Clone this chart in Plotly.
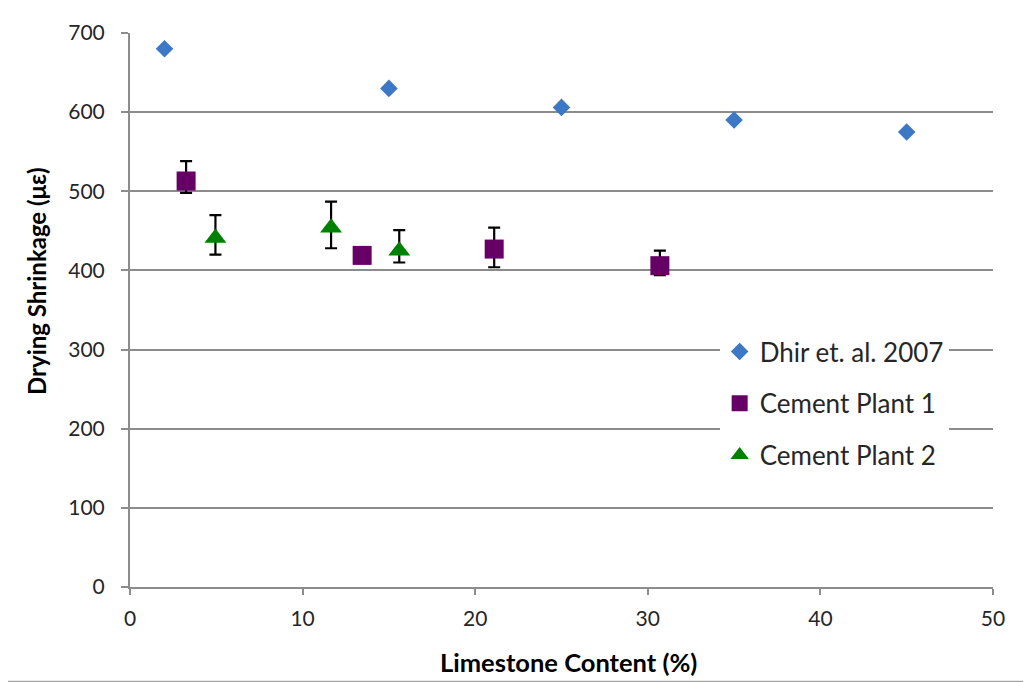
import plotly.graph_objects as go

# ---- data ----
dhir_x = [2, 15, 25, 35, 45]
dhir_y = [680, 630, 606, 590, 575]

cp1_x = [3.25, 13.45, 21.1, 30.7]
cp1_y = [513, 419, 427, 406]
cp1_err_plus = [25, 6, 27, 19]
cp1_err_minus = [15, 6, 23, 12]

cp2_x = [4.95, 11.65, 15.6]
cp2_y = [441, 454, 425]
cp2_err_plus = [29, 33, 26]
cp2_err_minus = [21, 26, 15]

x_ticks = [0, 10, 20, 30, 40, 50]
y_ticks = [0, 100, 200, 300, 400, 500, 600, 700]

x_title = "Limestone Content (%)"
y_title = "Drying Shrinkage (με)"

FONT = "Lato"
GRID = "#8c8c8c"

# reference-pixel helpers (plot area: x 130..993.5, y 586.7..33.3)
def px(x):
    return (x - 130) / 863.5

def py(y):
    return (586.7 - y) / 553.4

fig = go.Figure()

fig.add_trace(go.Scatter(
    x=dhir_x, y=dhir_y, mode="markers", name="Dhir et. al. 2007",
    legendgroup="a",
    marker=dict(symbol="diamond", size=13.5, color="#3d78c6"),
))
fig.add_trace(go.Scatter(
    x=cp1_x, y=cp1_y, mode="markers", name="Cement Plant 1",
    legendgroup="b",
    marker=dict(symbol="square", size=19, color="#660066"),
    error_y=dict(type="data", symmetric=False, array=cp1_err_plus,
                 arrayminus=cp1_err_minus, color="black", thickness=2.2, width=6),
))
fig.add_trace(go.Scatter(
    x=cp2_x, y=cp2_y, mode="markers", name="Cement Plant 2",
    legendgroup="c",
    marker=dict(symbol="triangle-up", size=19, color="#008000"),
    error_y=dict(type="data", symmetric=False, array=cp2_err_plus,
                 arrayminus=cp2_err_minus, color="black", thickness=2.2, width=6),
))

# outer chart frame
fig.add_shape(type="rect", xref="paper", yref="paper",
              x0=px(5), x1=px(1045), y0=py(681), y1=py(2.5),
              line=dict(color="#a6a6a6", width=1.5), layer="below")

fig.add_annotation(text="<b>" + x_title + "</b>", xref="paper", yref="paper",
                   x=px(569), y=py(662), xanchor="center", yanchor="middle",
                   showarrow=False, font=dict(family=FONT, size=25.5, color="black"))
fig.add_annotation(text="<b>" + y_title + "</b>", xref="paper", yref="paper",
                   x=px(37), y=py(281), xanchor="center", yanchor="middle",
                   textangle=-90, showarrow=False,
                   font=dict(family=FONT, size=24, color="black"))

fig.update_layout(
    width=1031, height=682,
    margin=dict(l=122, r=45.5, t=25.3, b=103.3),
    paper_bgcolor="white", plot_bgcolor="white",
    font=dict(family=FONT, size=21, color="#262626"),
    showlegend=True,
    legend=dict(
        x=px(720), y=py(328),
        xanchor="left", yanchor="top",
        bgcolor="white", borderwidth=0,
        font=dict(family=FONT, size=26, color="#262626"),
        tracegroupgap=15,
        itemsizing="trace",
    ),
    xaxis=dict(
        range=[0, 50], tickvals=x_ticks, showgrid=False, zeroline=False,
        showline=True, linecolor=GRID, linewidth=2,
        ticks="outside", ticklen=6, tickwidth=2, tickcolor=GRID,
        ticklabelstandoff=6,
    ),
    yaxis=dict(
        range=[0, 700], tickvals=y_ticks, showgrid=True, gridcolor=GRID,
        gridwidth=2, zeroline=False,
        showline=True, linecolor=GRID, linewidth=2,
        ticks="outside", ticklen=7, tickwidth=2, tickcolor=GRID,
        ticklabelstandoff=12,
    ),
)

fig.write_html("out.html")
